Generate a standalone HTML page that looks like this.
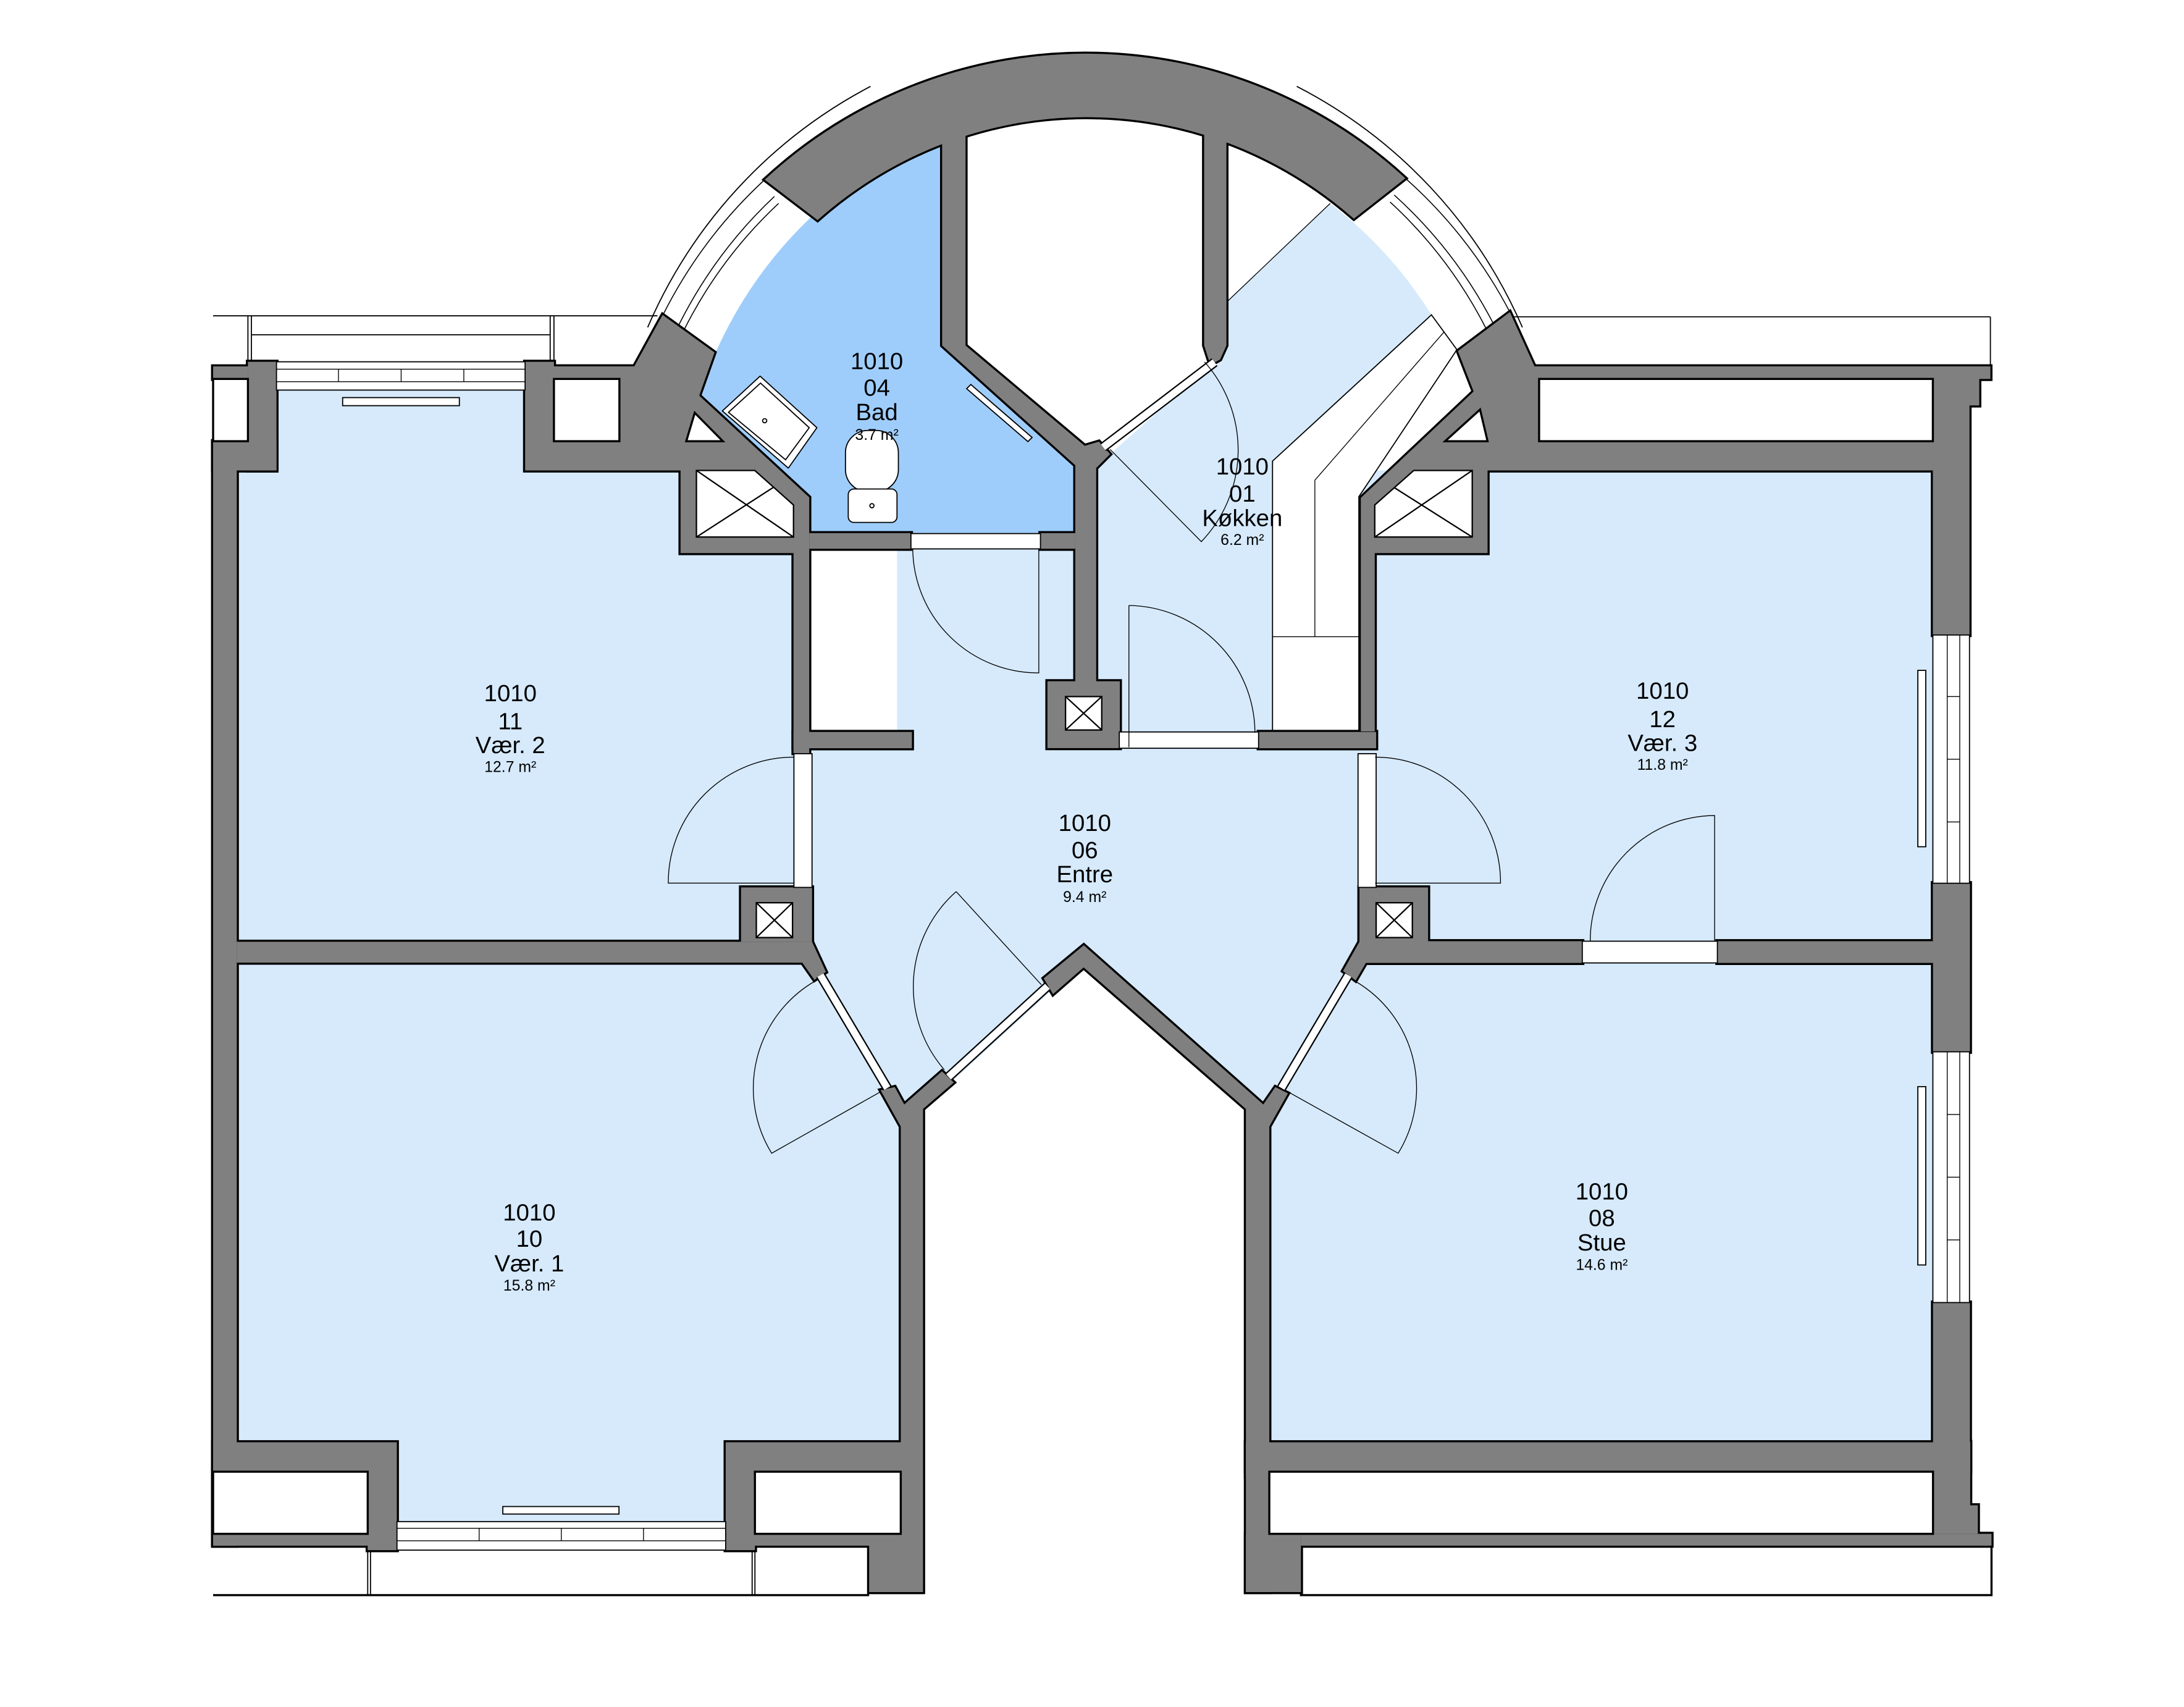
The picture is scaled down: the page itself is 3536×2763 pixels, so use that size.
<!DOCTYPE html>
<html><head><meta charset="utf-8"><style>
html,body{margin:0;padding:0;background:#fff;}
svg{display:block;}
text{font-family:"Liberation Sans",sans-serif;fill:#000;text-anchor:middle;}
.t{font-size:17px;}
.a{font-size:11px;}
</style></head><body>
<svg width="3536" height="2763" viewBox="0 0 1568 1225.3" preserveAspectRatio="none" xmlns="http://www.w3.org/2000/svg">
<defs>
<g id="w">
 <path d="M549 129 A339 339 0 0 1 1009 128 L972 157 A295 303 0 0 0 587 158 Z"/>
 <rect x="153" y="263" width="25" height="9"/>
 <rect x="153" y="316.7" width="45.5" height="21"/>
 <rect x="153" y="316.7" width="17" height="792.8"/>
 <rect x="178" y="259.7" width="20.5" height="78"/>
 <polygon points="377,259.7 397.7,259.7 397.7,263 455.4,263 475.7,226 513,253 502,284 581,357 581,540.6 569.7,540.6 569.7,397 488.6,397 488.6,337.7 377,337.7"/>
 <rect x="581" y="382.7" width="73" height="11.2"/>
 <rect x="747" y="382.7" width="25" height="11.2"/>
 <rect x="569.7" y="525.4" width="85" height="11.7"/>
 <polygon points="676.4,86 693.2,86 693.2,248 778.8,320 789,317 797,326 787,336 787,495 772,495 772,334 676.4,248"/>
 <polygon points="864.5,86 880.5,86 880.5,248 876,258 869,262 864.5,248"/>
 <rect x="752" y="489" width="52" height="48"/>
 <rect x="903.7" y="525.4" width="84.3" height="11.7"/>
 <rect x="170" y="676" width="413" height="15"/>
 <rect x="532" y="637" width="51" height="39"/>
 <polygon points="569.4,676 583,676 593,697.7 584.7,703.4 576,691 569.4,691"/>
 <polygon points="632.2,782.6 642.4,780.3 649.2,792.8 676.3,769 684.8,777 662.7,796 662.7,1142.8 624,1142.8 624,1109.5 542,1109.5 542,1112.7 521,1112.7 521,1035.3 646.7,1035.3 646.7,808.6"/>
 <polygon points="153,1035.3 284.9,1035.3 284.9,1112.7 264,1112.7 264,1109.5 153,1109.5"/>
 <polygon points="749.3,702.3 778.1,678.5 907,792.8 915.6,780.3 924.7,784.8 911.3,808.6 911.3,1060 894.5,1060 894.5,796 778,694.4 756,713.6"/>
 <rect x="894.5" y="1035" width="16.8" height="107.8"/>
 <rect x="894.5" y="1101" width="39.5" height="41.8"/>
 <rect x="894.5" y="1035.3" width="520" height="21.1"/>
 <rect x="934" y="1101" width="495.8" height="8.5"/>
 <polygon points="1387.8,1035 1414.5,1035 1414.5,1080.5 1420,1080.5 1420,1101 1387.8,1101"/>
 <rect x="1387.8" y="634" width="26.5" height="121"/>
 <rect x="1387.8" y="935" width="26.5" height="110"/>
 <polygon points="1046.7,252 1084,224 1101.7,263 1429,263 1429,272 1421,272 1421,291 1414,291 1414,455.8 1387.7,455.8 1387.7,337.7 1068,337.7 1068,397 987,397 987,525 977,525 977,357.4 1058,281"/>
 <rect x="976" y="637" width="49.3" height="39"/>
 <rect x="976" y="675.6" width="160" height="15.6"/>
 <rect x="1233" y="675.6" width="181" height="15.6"/>
 <rect x="1387.7" y="634" width="26.5" height="57"/>
 <polygon points="976,676 988,676 980.5,691.4 973.3,703.8 964.2,697"/>
</g>
</defs>

<g fill="none" stroke="#000" stroke-width="0.8">
 <line x1="153" y1="226.7" x2="472" y2="226.7"/>
 <line x1="180.5" y1="240.3" x2="395" y2="240.3"/>
 <line x1="178" y1="226.7" x2="178" y2="259.7"/><line x1="180.5" y1="226.7" x2="180.5" y2="259.7"/>
 <line x1="395" y1="226.7" x2="395" y2="259.7"/><line x1="397.7" y1="226.7" x2="397.7" y2="259.7"/>
 <line x1="1084" y1="227.4" x2="1429" y2="227.4"/>
 <line x1="1429" y1="227.4" x2="1429" y2="263"/>
 <line x1="264" y1="1112.7" x2="264" y2="1145"/><line x1="266" y1="1112.7" x2="266" y2="1145"/>
 <line x1="540" y1="1112.7" x2="540" y2="1145"/><line x1="542" y1="1112.7" x2="542" y2="1145"/>
 <path d="M465 235 A352 352 0 0 1 625 62"/>
 <path d="M931 62 A352 352 0 0 1 1093 235"/>
</g>
<line x1="153" y1="1145" x2="624" y2="1145" stroke="#000" stroke-width="1.5"/>
<rect x="934" y="1109.5" width="495.8" height="35.5" fill="#fff" stroke="#000" stroke-width="1.5"/>

<g fill="#d6eafc">
 <polygon points="170,337.7 198.5,337.7 198.5,280 377,280 377,337.7 488.6,337.7 488.6,397 569.7,397 569.7,676 170,676"/>
 <polygon points="170,691 576,691 584.7,703.4 632.2,782.6 646.7,808.6 646.7,1035.3 521,1035.3 521,1092 285,1092 285,1035.3 170,1035.3"/>
 <polygon points="583,537 988,537 988,690 963,703 924,790 910,808 894,796 778,690 662,796 646,808 632,783 583,700"/>
 <rect x="644" y="394" width="128" height="143"/>
 <path d="M787 330 L797 326 L869 262 L880.5 248 L880.5 217 L955 146 A295 303 0 0 1 1027.7 226 L913.6 331 L913.6 525.4 L787 525.4 Z"/>
 <rect x="977" y="337.7" width="411" height="338"/>
 <rect x="911" y="691" width="477" height="344.3"/>
</g>
<path d="M502 284 L581 357 L581 383 L772 383 L772 334 L676 248 L676 96 A295 303 0 0 0 502 284 Z" fill="#9fcdfb"/>

<polygon points="913.6,331 1027.7,226 1046,251 975.6,356.5 975.6,524.5 913.6,524.5" fill="#fff" stroke="#000" stroke-width="0.8"/>
<g stroke="#000" stroke-width="0.6" fill="none">
 <line x1="944" y1="344.7" x2="944" y2="457"/>
 <line x1="913.6" y1="457" x2="975.6" y2="457"/>
 <line x1="944" y1="344.7" x2="1037" y2="238"/>
 <line x1="880.5" y1="217" x2="955" y2="146"/>
</g>

<g fill="none" stroke="#000" stroke-width="0.7">
 <path d="M476 226 A339 339 0 0 1 549 129"/>
 <path d="M487 234 A327 327 0 0 1 556 141"/>
 <path d="M491 237 A322 322 0 0 1 559 146"/>
 <path d="M1009 128 A339 339 0 0 1 1084 224"/>
 <path d="M1001 140 A327 327 0 0 1 1072 232"/>
 <path d="M998 145 A322 322 0 0 1 1067 236"/>
</g>

<use href="#w" fill="#808080" stroke="#000" stroke-width="3" stroke-linejoin="miter"/>
<use href="#w" fill="#808080" stroke="none"/>

<g fill="#fff" stroke="#000" stroke-width="1.5">
 <rect x="153" y="272" width="25" height="44.7"/>
 <rect x="397.7" y="272" width="47" height="44.7"/>
 <rect x="1105" y="272" width="282.7" height="44.7"/>
 <rect x="153" y="1056.4" width="111" height="44.6"/>
 <rect x="542" y="1056.4" width="104.7" height="44.6"/>
 <rect x="911.3" y="1056.4" width="476.5" height="44.6"/>
 <polygon points="492.7,316.7 498.8,296.3 519,316.7"/>
 <polygon points="1037.5,316.7 1062.6,294 1068,316.7"/>
</g>
<g fill="#fff" stroke="#000" stroke-width="1">
 <polygon points="500,337.7 541.9,337.7 569.7,362.5 569.7,385.5 500,385.5"/>
 <line x1="500" y1="385.5" x2="555" y2="350"/><line x1="500" y1="337.7" x2="569.7" y2="385.5"/>
 <polygon points="1015,337.7 1057,337.7 1057,385.5 987,385.5 987,362.5"/>
 <line x1="987" y1="385.5" x2="1057" y2="337.7"/><line x1="1001" y1="350" x2="1057" y2="385.5"/>
 <rect x="543" y="648" width="26" height="25"/><line x1="543" y1="648" x2="569" y2="673"/><line x1="569" y1="648" x2="543" y2="673"/>
 <rect x="988" y="648" width="26" height="25"/><line x1="988" y1="648" x2="1014" y2="673"/><line x1="1014" y1="648" x2="988" y2="673"/>
 <rect x="765" y="500" width="26" height="24"/><line x1="765" y1="500" x2="791" y2="524"/><line x1="791" y1="500" x2="765" y2="524"/>
</g>

<g fill="#fff" stroke="#000" stroke-width="0.8">
 <rect x="570" y="541" width="13" height="96"/>
 <rect x="975" y="541" width="13" height="96"/>
 <rect x="654" y="383" width="93" height="11"/>
 <rect x="803.6" y="525.4" width="100" height="11.7"/>
 <rect x="1136" y="675.6" width="97" height="15.6"/>
</g>
<g stroke-linecap="butt">
 <line x1="589" y1="700" x2="637" y2="781" stroke="#000" stroke-width="7"/>
 <line x1="589" y1="700" x2="637" y2="781" stroke="#fff" stroke-width="5"/>
 <line x1="681" y1="773" x2="752" y2="708" stroke="#000" stroke-width="7"/>
 <line x1="681" y1="773" x2="752" y2="708" stroke="#fff" stroke-width="5"/>
 <line x1="920" y1="781" x2="968" y2="700" stroke="#000" stroke-width="7"/>
 <line x1="920" y1="781" x2="968" y2="700" stroke="#fff" stroke-width="5"/>
 <line x1="792" y1="321" x2="872" y2="260" stroke="#000" stroke-width="7"/>
 <line x1="792" y1="321" x2="872" y2="260" stroke="#fff" stroke-width="5"/>
</g>

<g fill="none" stroke="#000" stroke-width="0.6">
 <path d="M569.7 543.5 A90 90 0 0 0 479.8 633.9 L569.7 633.9"/>
 <path d="M987.3 543.5 A90 90 0 0 1 1077.3 633.9 L987.3 633.9"/>
 <path d="M1141.7 675.6 A90 90 0 0 1 1231 585.4 L1231 675.6"/>
 <path d="M655.3 393.9 A90 90 0 0 0 745.8 483 L745.8 393.9"/>
 <path d="M810.5 434.6 A92 92 0 0 1 901 526 M810.5 434.6 L810.5 536.4"/>
 <path d="M864.8 259.8 A95 95 0 0 1 862.5 388.8 L797 322.6"/>
 <path d="M686.5 640 A91 91 0 0 0 678 767.9 M686.5 640 L747.6 706.8"/>
 <path d="M584.7 704.5 A89 89 0 0 0 554 827.8 L632.2 783.7"/>
 <path d="M973.3 704.5 A89 89 0 0 1 1003.8 827.8 L924.7 783.7"/>
</g>

<g fill="#fff" stroke="#000" stroke-width="0.8">
 <rect x="198.5" y="259.7" width="178.5" height="20.3"/>
 <rect x="246" y="285.4" width="83.8" height="5.8"/>
 <rect x="285" y="1092.2" width="236" height="20.5"/>
 <rect x="361" y="1081.4" width="83.4" height="5.4"/>
 <rect x="1387.7" y="455.8" width="26.3" height="178.2"/>
 <rect x="1376.9" y="481.2" width="5.7" height="126.6"/>
 <rect x="1387.7" y="755" width="26.3" height="180"/>
 <rect x="1376.9" y="780" width="5.7" height="128"/>
</g>
<g stroke="#000" stroke-width="0.6" fill="none">
 <line x1="198.5" y1="265" x2="377" y2="265"/><line x1="198.5" y1="274" x2="377" y2="274"/>
 <line x1="243" y1="265" x2="243" y2="274"/><line x1="288" y1="265" x2="288" y2="274"/><line x1="333" y1="265" x2="333" y2="274"/>
 <line x1="285" y1="1097" x2="521" y2="1097"/><line x1="285" y1="1106" x2="521" y2="1106"/>
 <line x1="344" y1="1097" x2="344" y2="1106"/><line x1="403" y1="1097" x2="403" y2="1106"/><line x1="462" y1="1097" x2="462" y2="1106"/>
 <line x1="1398" y1="455.8" x2="1398" y2="634"/><line x1="1407" y1="455.8" x2="1407" y2="634"/>
 <line x1="1398" y1="500" x2="1407" y2="500"/><line x1="1398" y1="545" x2="1407" y2="545"/><line x1="1398" y1="590" x2="1407" y2="590"/>
 <line x1="1398" y1="755" x2="1398" y2="935"/><line x1="1407" y1="755" x2="1407" y2="935"/>
 <line x1="1398" y1="800" x2="1407" y2="800"/><line x1="1398" y1="845" x2="1407" y2="845"/><line x1="1398" y1="890" x2="1407" y2="890"/>
</g>

<g fill="#fff" stroke="#000" stroke-width="0.8">
 <polygon points="518.6,295 545.7,270 586.5,307 566,336" stroke-linejoin="round"/>
 <polygon points="523,296 546,275 581,307 564,330" fill="none"/>
 <circle cx="549" cy="302" r="1.5"/>
 <rect x="607" y="309" width="38" height="44" rx="16"/>
 <rect x="609" y="351" width="35" height="24" rx="4"/>
 <circle cx="626" cy="363" r="1.5"/>
 <polygon points="694,279 697,276 741,314 738,317"/>
</g>

<text class="t" x="629.5" y="265">1010</text>
<text class="t" x="629.5" y="284">04</text>
<text class="t" x="629.5" y="301.6">Bad</text>
<text class="a" x="629.5" y="315.8">3.7 m²</text>

<text class="t" x="891.9" y="340.6">1010</text>
<text class="t" x="891.9" y="360">01</text>
<text class="t" x="891.9" y="377.6">Køkken</text>
<text class="a" x="891.9" y="391.2">6.2 m²</text>

<text class="t" x="366.4" y="503.3">1010</text>
<text class="t" x="366.4" y="523.6">11</text>
<text class="t" x="366.4" y="540.6">Vær. 2</text>
<text class="a" x="366.4" y="554.2">12.7 m²</text>

<text class="t" x="1193.6" y="501.6">1010</text>
<text class="t" x="1193.6" y="522">12</text>
<text class="t" x="1193.6" y="539">Vær. 3</text>
<text class="a" x="1193.6" y="552.5">11.8 m²</text>

<text class="t" x="778.8" y="596.4">1010</text>
<text class="t" x="778.8" y="615.9">06</text>
<text class="t" x="778.8" y="633.3">Entre</text>
<text class="a" x="778.8" y="647.5">9.4 m²</text>

<text class="t" x="380" y="876">1010</text>
<text class="t" x="380" y="895">10</text>
<text class="t" x="380" y="912.6">Vær. 1</text>
<text class="a" x="380" y="926.5">15.8 m²</text>

<text class="t" x="1150" y="861">1010</text>
<text class="t" x="1150" y="880">08</text>
<text class="t" x="1150" y="897.6">Stue</text>
<text class="a" x="1150" y="911.5">14.6 m²</text>
</svg>
</body></html>
